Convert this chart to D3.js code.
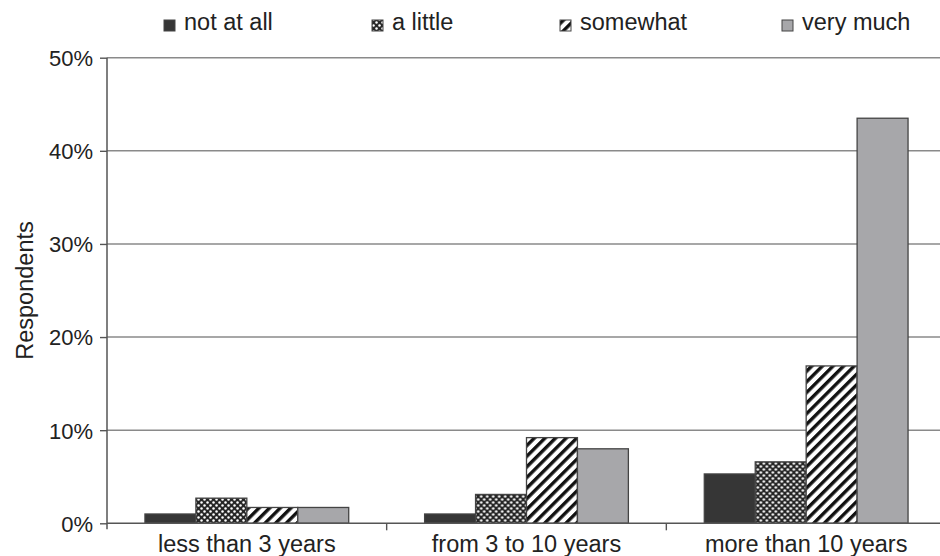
<!DOCTYPE html>
<html>
<head>
<meta charset="utf-8">
<script src="https://cdn.jsdelivr.net/npm/d3@7"></script>
<style>
  html, body { margin: 0; padding: 0; background: #fff; }
  text { font-family: "Liberation Sans", Arial, sans-serif; fill: #222; }
</style>
</head>
<body>
<svg id="chart" width="940" height="556"></svg>
<script>
// ---- data ----
const categories = ["less than 3 years", "from 3 to 10 years", "more than 10 years"];
const seriesNames = ["not at all", "a little", "somewhat", "very much"];
const notAtAll = [1.0, 1.0, 5.3];
const aLittle  = [2.7, 3.1, 6.6];
const somewhat = [1.7, 9.2, 16.9];
const veryMuch = [1.7, 8.0, 43.5];
const yTicks = [0, 10, 20, 30, 40, 50];
const yLabel = "Respondents";

const seriesValues = [notAtAll, aLittle, somewhat, veryMuch];

// ---- layout ----
const svg = d3.select("#chart");
const mLeft = 107, mRight = 946, mTop = 57.7, mBottom = 523.3;

const x0 = d3.scaleBand().domain(categories).range([mLeft, mRight]).paddingInner(0).paddingOuter(0);
const x1 = d3.scaleBand().domain(seriesNames).range([0, x0.bandwidth()]).paddingInner(0).paddingOuter(0.745);
const y = d3.scaleLinear().domain([0, 50]).range([mBottom, mTop]);

// ---- patterns ----
const defs = svg.append("defs");
const pLittle = defs.append("pattern").attr("id", "pLittle").attr("patternUnits", "userSpaceOnUse")
  .attr("width", 6).attr("height", 6);
pLittle.append("rect").attr("width", 6).attr("height", 6).attr("fill", "#262626");
pLittle.append("circle").attr("cx", 1.5).attr("cy", 1.5).attr("r", 1.25).attr("fill", "#fff");
pLittle.append("circle").attr("cx", 4.5).attr("cy", 4.5).attr("r", 1.25).attr("fill", "#fff");

const pSome = defs.append("pattern").attr("id", "pSome").attr("patternUnits", "userSpaceOnUse")
  .attr("width", 7.5).attr("height", 7.5).attr("patternTransform", "rotate(45)");
pSome.append("rect").attr("width", 7.5).attr("height", 7.5).attr("fill", "#fff");
pSome.append("rect").attr("width", 3.4).attr("height", 7.5).attr("fill", "#111");

const fills = ["#363636", "url(#pLittle)", "url(#pSome)", "#a7a7aa"];
const color = d3.scaleOrdinal().domain(seriesNames).range(fills);

// ---- gridlines ----
svg.append("g").selectAll("line").data(yTicks.filter(d => d > 0)).join("line")
  .attr("x1", mLeft).attr("x2", 940)
  .attr("y1", d => y(d)).attr("y2", d => y(d))
  .attr("stroke", "#8a8a8a").attr("stroke-width", 1.4);

// ---- y axis ----
const yAxis = svg.append("g").attr("transform", `translate(${mLeft},0)`)
  .call(d3.axisLeft(y).tickValues(yTicks).tickFormat(d => d + "%").tickSize(7).tickPadding(7));
yAxis.select(".domain").attr("stroke", "#555").attr("stroke-width", 1.5).attr("d", `M0,${mTop}V${mBottom + 6}`);
yAxis.selectAll(".tick line").attr("stroke", "#555").attr("stroke-width", 1.4);
yAxis.selectAll(".tick text").style("font-size", "22px").attr("fill", "#222")
  .style("font-family", '"Liberation Sans", Arial, sans-serif').attr("dy", "0.36em");

// ---- bars ----
const groups = svg.append("g").selectAll("g").data(categories).join("g")
  .attr("transform", d => `translate(${x0(d)},0)`);
groups.selectAll("rect")
  .data((c, ci) => seriesNames.map((s, si) => ({ s, v: seriesValues[si][ci] })))
  .join("rect")
  .attr("x", d => x1(d.s))
  .attr("y", d => y(d.v))
  .attr("width", x1.bandwidth())
  .attr("height", d => y(0) - y(d.v))
  .attr("fill", d => color(d.s))
  .attr("stroke", "#444").attr("stroke-width", 1.3);

// ---- x axis ----
const xAxisG = svg.append("g");
xAxisG.append("line").attr("x1", mLeft).attr("x2", 940).attr("y1", mBottom).attr("y2", mBottom)
  .attr("stroke", "#555").attr("stroke-width", 1.5);
xAxisG.selectAll("line.sep").data(categories.slice(1)).join("line").attr("class", "sep")
  .attr("x1", d => x0(d)).attr("x2", d => x0(d))
  .attr("y1", mBottom).attr("y2", mBottom + 7)
  .attr("stroke", "#555").attr("stroke-width", 1.4);
xAxisG.selectAll("text").data(categories).join("text")
  .attr("x", d => x0(d) + x0.bandwidth() / 2)
  .attr("y", 552)
  .attr("text-anchor", "middle")
  .style("font-size", "23.5px")
  .text(d => d);

// ---- y label ----
svg.append("text")
  .attr("transform", `translate(33,${(mTop + mBottom) / 2}) rotate(-90)`)
  .attr("text-anchor", "middle")
  .style("font-size", "23.5px")
  .text(yLabel);

// ---- legend ----
const legendX = [164, 372, 560, 782];
const leg = svg.append("g").selectAll("g").data(seriesNames).join("g")
  .attr("transform", (d, i) => `translate(${legendX[i]},0)`);
leg.append("rect").attr("x", 0).attr("y", 20).attr("width", 11).attr("height", 11)
  .attr("fill", d => color(d)).attr("stroke", "#444").attr("stroke-width", 1);
leg.append("text").attr("x", 20).attr("y", 30).style("font-size", "23.5px").text(d => d);
</script>
</body>
</html>
